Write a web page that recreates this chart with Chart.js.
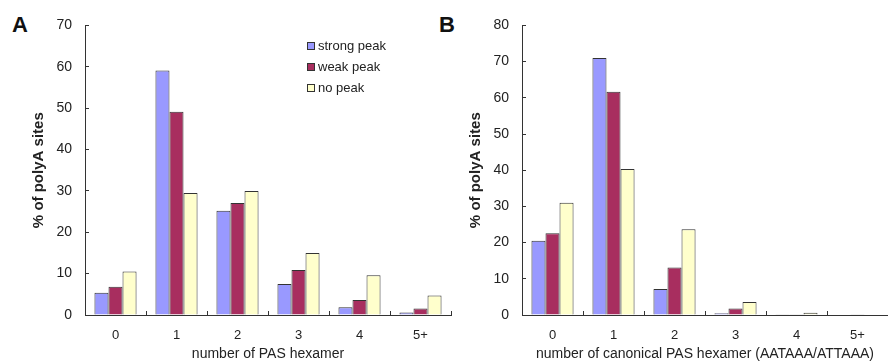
<!DOCTYPE html>
<html>
<head>
<meta charset="utf-8">
<script src="https://cdn.jsdelivr.net/npm/chart.js@4.4.1/dist/chart.umd.min.js"></script>
<style>
  html, body { margin: 0; padding: 0; background: #fff; width: 888px; height: 364px; overflow: hidden; }
  .painel { position: absolute; top: 0; height: 364px; }
  #painelA { left: 0; width: 452px; }
  #painelB { left: 437px; width: 451px; }
  .letra { position: absolute; top: 14px; font: bold 22px/22px "Liberation Sans", Arial, sans-serif; color: #111; }
</style>
</head>
<body>
<div class="letra" style="left:12px">A</div>
<div class="letra" style="left:439px">B</div>
<div class="painel" id="painelA"><canvas id="graficoA"></canvas></div>
<div class="painel" id="painelB"><canvas id="graficoB"></canvas></div>
<script>
// categorias e séries
const categorias = ['0', '1', '2', '3', '4', '5+'];
const nomesSeries = ['strong peak', 'weak peak', 'no peak'];
const coresSeries = ['#9999FF', '#A82E5F', '#FFFFCC'];

// painel A: qualquer hexâmero PAS
const fortesA = [5.4, 59.1, 25.2, 7.5, 1.9, 0.6];
const fracosA = [6.8, 49.1, 27.1, 10.9, 3.6, 1.6];
const semPicoA = [10.5, 29.5, 30.0, 15.0, 9.6, 4.7];

// painel B: hexâmero canônico
const fortesB = [20.5, 71.0, 7.2, 0.5, 0.1, 0];
const fracosB = [22.6, 61.7, 13.1, 1.8, 0.1, 0.2];
const semPicoB = [31.0, 40.3, 23.7, 3.6, 0.6, 0];

const fonte = '"Liberation Sans", Arial, sans-serif';

// Legenda desenhada dentro da área do gráfico
const legendaInterna = {
    id: 'legendaInterna',
    afterDraw(chart, args, opts) {
        if (!opts.display) return;
        const ctx = chart.ctx;
        ctx.save();
        ctx.font = '13px ' + fonte;
        ctx.textBaseline = 'middle';
        chart.data.datasets.forEach((ds, i) => {
            const y = opts.y + i * opts.spacing;
            ctx.fillStyle = ds.backgroundColor;
            ctx.fillRect(opts.x, y - 4, 8, 8);
            ctx.strokeStyle = '#333';
            ctx.lineWidth = 1;
            ctx.strokeRect(opts.x + 0.5, y - 3.5, 7, 7);
            ctx.fillStyle = '#222';
            ctx.fillText(ds.label, opts.x + 11, y);
        });
        ctx.restore();
    }
};

const criarGrafico = (canvasId, series, yMax, tituloX, comLegenda, padDireita) => {
    new Chart(document.getElementById(canvasId), {
        type: 'bar',
        data: {
            labels: categorias,
            datasets: series.map((valores, i) => ({
                label: nomesSeries[i],
                data: valores,
                backgroundColor: coresSeries[i],
                borderColor: '#333',
                borderWidth: 1,
                categoryPercentage: 0.69,
                barPercentage: 1
            }))
        },
        options: {
            responsive: true,
            maintainAspectRatio: false,
            animation: false,
            layout: { padding: { top: 25, right: padDireita, left: 0, bottom: 0 } },
            plugins: {
                legend: { display: false },
                tooltip: { enabled: false },
                legendaInterna: { display: comLegenda, x: 307, y: 46, spacing: 21 }
            },
            scales: {
                x: {
                    grid: { offset: true, drawOnChartArea: false, tickLength: -4, color: '#333' },
                    border: { color: '#333', width: 1 },
                    ticks: { color: '#222', font: { family: fonte, size: 13 }, padding: 17 },
                    title: { display: true, text: tituloX, color: '#222', font: { family: fonte, size: 14 }, padding: { top: 0, bottom: 1.5 } },
                    afterFit: s => { s.height = 49; }
                },
                y: {
                    min: 0,
                    max: yMax,
                    grid: { drawOnChartArea: false, tickLength: -4, color: '#333' },
                    border: { color: '#333', width: 1 },
                    ticks: { stepSize: 10, color: '#222', font: { family: fonte, size: 14 }, padding: 17 },
                    title: { display: true, text: '% of polyA sites', color: '#222', font: { family: fonte, size: 15, weight: 'bold' }, padding: { top: 30, bottom: 0 } },
                    afterFit: s => { s.width = 85; }
                }
            }
        },
        plugins: [legendaInterna]
    });
};

criarGrafico('graficoA', [fortesA, fracosA, semPicoA], 70, 'number of PAS hexamer', true, 1);
criarGrafico('graficoB', [fortesB, fracosB, semPicoB], 80, 'number of canonical PAS hexamer (AATAAA/ATTAAA)', false, 0);
</script>
</body>
</html>
